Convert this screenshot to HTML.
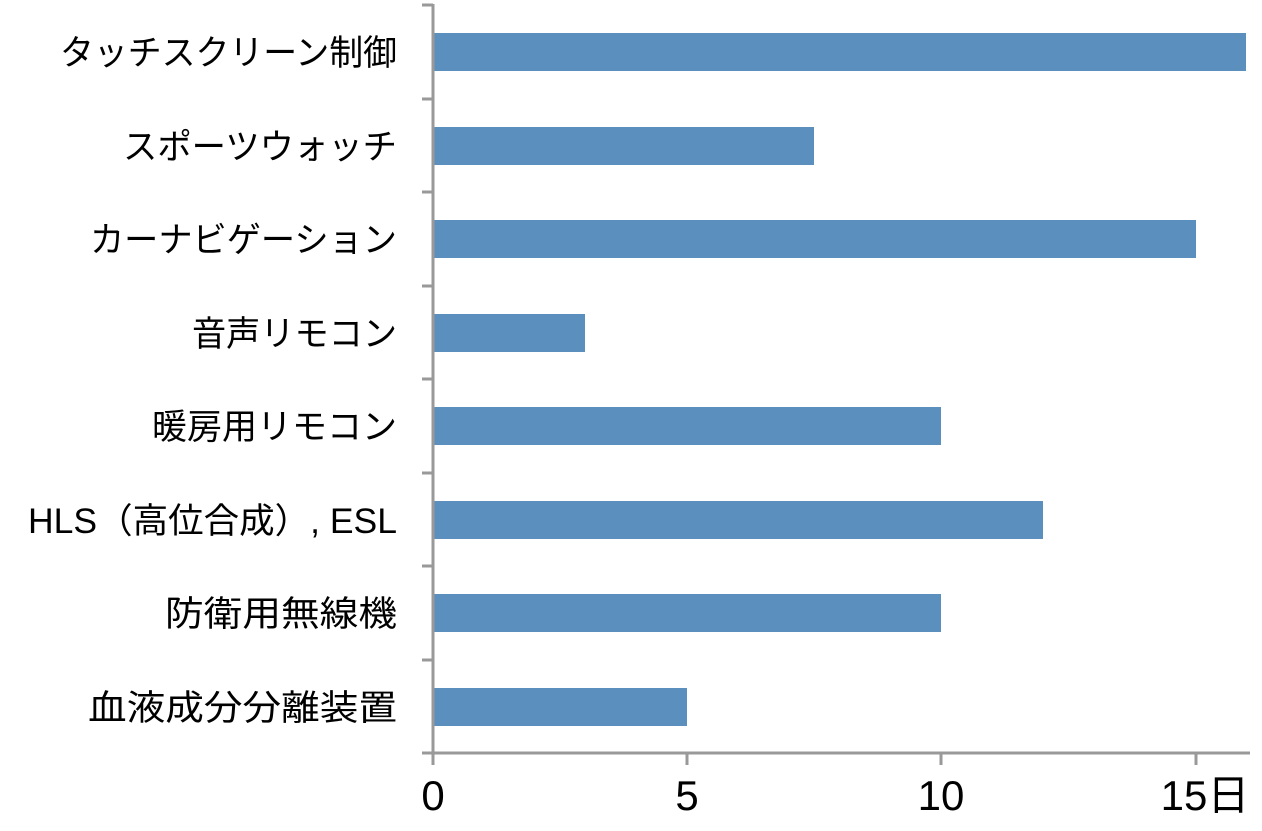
<!DOCTYPE html><html><head><meta charset="utf-8"><style>body{margin:0;background:#fff}</style></head><body>
<svg width="1262" height="826" xmlns="http://www.w3.org/2000/svg" font-family="Liberation Sans, Noto Sans CJK JP, sans-serif">
<g fill="#5b8fbe">
<rect x="434" y="33" width="812" height="38"/>
<rect x="434" y="127" width="380" height="38"/>
<rect x="434" y="220" width="762" height="38"/>
<rect x="434" y="314" width="151" height="38"/>
<rect x="434" y="407" width="507" height="38"/>
<rect x="434" y="501" width="609" height="38"/>
<rect x="434" y="594" width="507" height="38"/>
<rect x="434" y="688" width="253" height="38"/>
</g>
<g stroke="#999" stroke-width="3">
<line x1="433" y1="4" x2="433" y2="754"/>
<line x1="432" y1="753" x2="1250" y2="753"/>
<line x1="422" y1="5" x2="433" y2="5"/><line x1="422" y1="99" x2="433" y2="99"/><line x1="422" y1="192" x2="433" y2="192"/><line x1="422" y1="286" x2="433" y2="286"/><line x1="422" y1="379" x2="433" y2="379"/><line x1="422" y1="473" x2="433" y2="473"/><line x1="422" y1="566" x2="433" y2="566"/><line x1="422" y1="660" x2="433" y2="660"/><line x1="422" y1="753" x2="433" y2="753"/>
<line x1="433" y1="753" x2="433" y2="765"/><line x1="687" y1="753" x2="687" y2="765"/><line x1="941" y1="753" x2="941" y2="765"/><line x1="1196" y1="753" x2="1196" y2="765"/>
</g>
<g font-size="35" fill="#000" lengthAdjust="spacingAndGlyphs">
<text x="60" y="65" textLength="337" lengthAdjust="spacingAndGlyphs">タッチスクリーン制御</text>
<text x="123" y="159" textLength="274" lengthAdjust="spacingAndGlyphs">スポーツウォッチ</text>
<text x="90" y="252" textLength="307" lengthAdjust="spacingAndGlyphs">カーナビゲーション</text>
<text x="192" y="346" textLength="205" lengthAdjust="spacingAndGlyphs">音声リモコン</text>
<text x="152" y="439" textLength="245" lengthAdjust="spacingAndGlyphs">暖房用リモコン</text>
<text x="28" y="533" textLength="369" lengthAdjust="spacingAndGlyphs">HLS（高位合成）, ESL</text>
<text x="165" y="626" textLength="232" lengthAdjust="spacingAndGlyphs">防衛用無線機</text>
<text x="88" y="720" textLength="309" lengthAdjust="spacingAndGlyphs">血液成分分離装置</text>
</g>
<g font-size="42" text-anchor="middle" fill="#000">
<text x="433" y="810">0</text><text x="687" y="810">5</text><text x="941" y="810">10</text><text x="1205" y="810">15日</text>
</g>
</svg></body></html>
